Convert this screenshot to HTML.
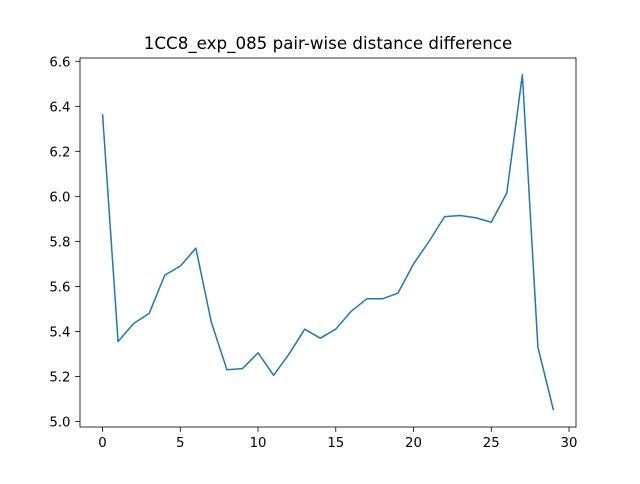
<!DOCTYPE html>
<html><head><meta charset="utf-8"><style>
body{margin:0;background:#fff;font-family:"DejaVu Sans","Liberation Sans",sans-serif}
</style></head><body>
<svg id="chart" width="640" height="480" xmlns="http://www.w3.org/2000/svg">
<rect width="640" height="480" fill="#fff"/>
<text x="328" y="49" text-anchor="middle" font-size="16.7" font-family="DejaVu Sans, sans-serif">1CC8_exp_085 pair-wise distance difference</text>
<g id="ticks" font-family="DejaVu Sans, sans-serif"></g>
<path id="line" fill="none" stroke="#1f77b4" stroke-width="1.5" stroke-linejoin="round"/>
<rect x="80" y="58" width="496" height="369" fill="none" stroke="#000" stroke-width="0.8"/>
</svg>
<script>
const values=[6.365,5.355,5.435,5.48,5.65,5.69,5.77,5.44,5.23,5.235,5.305,5.205,5.30,5.41,5.37,5.41,5.49,5.545,5.545,5.57,5.70,5.80,5.91,5.915,5.905,5.885,6.015,6.54,5.33,5.05];
const xTicks=[0,5,10,15,20,25,30];
const yTicks=[5.0,5.2,5.4,5.6,5.8,6.0,6.2,6.4,6.6];
const L=80,R=576,T=58,B=427;
const n=values.length;
const xmin=0,xmax=n-1,xm=(xmax-xmin)*0.05;
const ymin=Math.min(...values),ymax=Math.max(...values),ym=(ymax-ymin)*0.05;
const X=v=>L+(v-(xmin-xm))/((xmax+xm)-(xmin-xm))*(R-L);
const Y=v=>B-(v-(ymin-ym))/((ymax+ym)-(ymin-ym))*(B-T);
const ns="http://www.w3.org/2000/svg";
document.getElementById('line').setAttribute('d',values.map((v,i)=>(i?'L':'M')+X(i).toFixed(2)+' '+Y(v).toFixed(2)).join(''));
const g=document.getElementById('ticks');
function mk(tag,a){const e=document.createElementNS(ns,tag);for(const k in a)e.setAttribute(k,a[k]);g.appendChild(e);return e;}
xTicks.forEach(t=>{const x=X(t);
const l=mk('line',{x1:x,x2:x,y1:B,y2:B+4.9,stroke:'#000','stroke-width':0.8});


const s=mk('text',{x:x,y:B+20,'text-anchor':'middle','font-size':13.3});s.textContent=t;

});
yTicks.forEach(t=>{const y=Y(t);
const l=mk('line',{x1:L-4.9,x2:L,y1:y,y2:y,stroke:'#000','stroke-width':0.8});


const s=mk('text',{x:L-9.5,y:y+5,'text-anchor':'end','font-size':13.3});s.textContent=t.toFixed(1);

});
</script>
</body></html>
